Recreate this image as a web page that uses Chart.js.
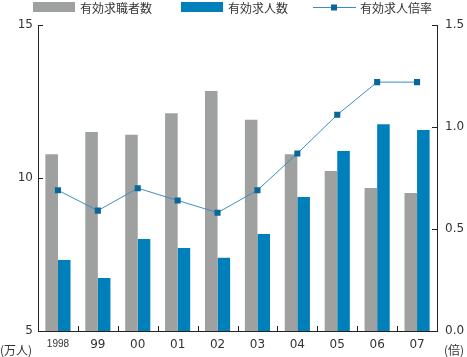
<!DOCTYPE html>
<html><head><meta charset="utf-8">
<script src="https://cdn.jsdelivr.net/npm/chart.js@4"></script>
<style>html,body{margin:0;padding:0;background:#fff;}#wrap{width:467px;height:357px;}</style>
</head><body><div id="wrap"><canvas id="c" width="467" height="357"></canvas></div>
<script>
const categories = ['1998','99','00','01','02','03','04','05','06','07'];
const jobSeekers = [10.78, 11.50, 11.41, 12.12, 12.84, 11.90, 10.78, 10.23, 9.67, 9.51];
const jobOffers = [7.32, 6.73, 8.01, 7.71, 7.39, 8.17, 9.38, 10.88, 11.76, 11.57];
const ratio = [0.69, 0.59, 0.70, 0.64, 0.58, 0.69, 0.87, 1.06, 1.22, 1.22];
const seriesNames = ['有効求職者数', '有効求人数', '有効求人倍率'];
const leftUnit = '(万人)';
const rightUnit = '(倍)';

const GRAY = '#9fa0a0', BLUE = '#0080bb', LINE = '#3a8fc0', MARK = '#06679a';
const TXT = '#333333';
const NUM_FONT = 'DejaVu Sans, sans-serif';
const JP_FONT = '"Noto Sans CJK JP", sans-serif';

const decor = {
  id: 'decor',
  afterDraw(chart) {
    const ctx = chart.ctx;
    const ca = chart.chartArea;
    const x = chart.scales.x, yl = chart.scales.y, yr = chart.scales.y2;
    ctx.save();
    ctx.strokeStyle = '#222';
    ctx.lineWidth = 1;
    ctx.beginPath();
    yl.ticks.forEach(t => {
      const py = Math.round(yl.getPixelForValue(t.value)) + 0.5;
      ctx.moveTo(ca.left, py); ctx.lineTo(ca.left + 5, py);
    });
    yr.ticks.forEach(t => {
      const py = Math.round(yr.getPixelForValue(t.value)) + 0.5;
      ctx.moveTo(ca.right, py); ctx.lineTo(ca.right - 5, py);
    });
    for (let i = 1; i < categories.length; i++) {
      const px = Math.round((x.getPixelForValue(i - 1) + x.getPixelForValue(i)) / 2) + 0.5;
      ctx.moveTo(px, ca.bottom); ctx.lineTo(px, ca.bottom - 5);
    }
    ctx.stroke();
    // units
    ctx.fillStyle = TXT;
    ctx.font = '12px ' + JP_FONT;
    ctx.textBaseline = 'middle';
    ctx.textAlign = 'left';
    ctx.fillText(leftUnit, 0, 350);
    ctx.fillText(rightUnit, 444, 350);
    // legend
    const ly = 7;
    ctx.fillStyle = GRAY; ctx.fillRect(33, 2, 42, 10);
    ctx.fillStyle = BLUE; ctx.fillRect(181, 2, 42, 10);
    ctx.strokeStyle = LINE; ctx.beginPath();
    ctx.moveTo(313, ly + 0.5); ctx.lineTo(356, ly + 0.5); ctx.stroke();
    ctx.fillStyle = MARK; ctx.fillRect(331, ly - 2.5, 6, 6);
    ctx.fillStyle = TXT;
    ctx.fillText(seriesNames[0], 80, ly + 1);
    ctx.fillText(seriesNames[1], 228, ly + 1);
    ctx.fillText(seriesNames[2], 360, ly + 1);
    ctx.restore();
  }
};

new Chart(document.getElementById('c'), {
  data: {
    labels: categories,
    datasets: [
      { type: 'line', label: seriesNames[2], data: ratio, yAxisID: 'y2', order: 0,
        borderColor: LINE, borderWidth: 1, pointStyle: 'rect', pointRadius: 4.3,
        pointBackgroundColor: MARK, pointBorderColor: MARK, pointBorderWidth: 0, tension: 0 },
      { type: 'bar', label: seriesNames[0], data: jobSeekers, yAxisID: 'y', order: 1,
        backgroundColor: GRAY, barPercentage: 1.0, categoryPercentage: 0.63 },
      { type: 'bar', label: seriesNames[1], data: jobOffers, yAxisID: 'y', order: 1,
        backgroundColor: BLUE, barPercentage: 1.0, categoryPercentage: 0.63 }
    ]
  },
  options: {
    responsive: false, animation: false, devicePixelRatio: 1,
    layout: { padding: { top: 25, left: 0, right: 0, bottom: 0 } },
    plugins: { legend: { display: false }, tooltip: { enabled: false } },
    scales: {
      x: {
        grid: { display: false, drawTicks: false },
        border: { display: true, color: '#222', width: 1 },
        ticks: {
          color: TXT, padding: 7, maxRotation: 0, autoSkip: false,
          font: (c) => c.index === 0 ? { family: '"Liberation Sans Narrow", "Liberation Sans", sans-serif', size: 10 } : { family: NUM_FONT, size: 12 }
        },
        afterFit(s) { s.height = 26; }
      },
      y: {
        position: 'left', min: 5, max: 15,
        grid: { display: false, drawTicks: false },
        border: { display: true, color: '#222', width: 1 },
        ticks: { stepSize: 5, color: TXT, padding: 5, font: { family: NUM_FONT, size: 12 } },
        afterFit(s) { s.width = 38; }
      },
      y2: {
        position: 'right', min: 0, max: 1.5,
        grid: { display: false, drawTicks: false },
        border: { display: true, color: '#222', width: 1 },
        ticks: { stepSize: 0.5, color: TXT, padding: 8, font: { family: NUM_FONT, size: 12 },
          callback: (v) => Number(v).toFixed(1) },
        afterFit(s) { s.width = 30; }
      }
    }
  },
  plugins: [decor]
});
</script></body></html>
